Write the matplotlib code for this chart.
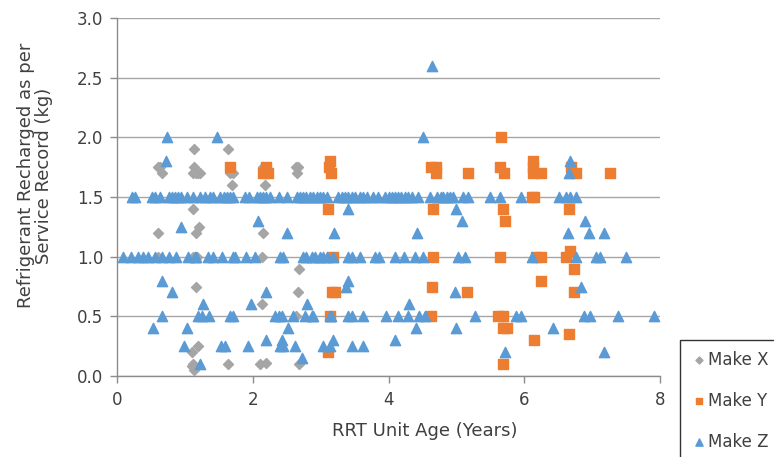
import matplotlib
matplotlib.use("Agg")
import matplotlib.pyplot as plt

# Make X (grey diamonds)
x_make_x = [0.60, 0.63, 0.67, 1.14, 1.14, 1.12, 1.16, 1.20, 1.23, 1.12, 1.21, 1.16, 0.60,
            0.61, 1.12, 1.18, 1.16, 1.20, 1.10, 1.12, 1.11, 1.13, 1.63, 1.66, 1.71, 1.69,
            2.15, 2.18, 2.64, 2.67, 2.65, 2.15, 2.13, 2.68, 2.67, 2.13, 2.64, 1.64, 2.11,
            2.19, 2.68]
y_make_x = [1.75, 1.75, 1.70, 1.90, 1.75, 1.70, 1.70, 1.70, 1.70, 1.40, 1.25, 1.20, 1.20,
            1.00, 1.00, 1.00, 0.75, 0.25, 0.20, 0.10, 0.08, 0.05, 1.90, 1.70, 1.70, 1.60,
            1.75, 1.60, 1.75, 1.75, 1.70, 1.20, 1.00, 0.90, 0.70, 0.60, 0.50, 0.10, 0.10,
            0.11, 0.10]

# Make Y (orange squares)
x_make_y = [1.66, 2.20, 2.15, 2.22, 3.14, 3.12, 3.15, 3.11, 3.18, 3.17, 3.21, 3.14, 3.11,
            4.63, 4.70, 4.70, 4.65, 4.66, 4.64, 4.63, 5.17, 5.15, 5.66, 5.64, 5.70, 6.13,
            6.13, 6.13, 6.25, 6.12, 6.15, 5.68, 5.72, 5.64, 6.17, 6.24, 6.25, 5.62, 5.69,
            5.69, 5.74, 6.14, 5.68, 6.69, 6.76, 7.26, 6.66, 6.68, 6.61, 6.74, 6.74, 6.66]
y_make_y = [1.75, 1.75, 1.70, 1.70, 1.80, 1.75, 1.70, 1.40, 1.00, 0.70, 0.70, 0.50, 0.20,
            1.75, 1.75, 1.70, 1.40, 1.00, 0.75, 0.50, 1.70, 0.70, 2.00, 1.75, 1.70, 1.80,
            1.75, 1.70, 1.70, 1.50, 1.50, 1.40, 1.30, 1.00, 1.00, 1.00, 0.80, 0.50, 0.50,
            0.40, 0.40, 0.30, 0.10, 1.75, 1.70, 1.70, 1.40, 1.05, 1.00, 0.90, 0.70, 0.35]

# Make Z (blue triangles): rows at 1.0, 1.5, 0.5, then the scattered ones
z_at_1_0 = [0.09, 0.20, 0.31, 0.39, 0.45, 0.56, 0.66, 0.76, 0.87, 1.04, 1.15, 1.17, 1.34,
            1.42, 1.54, 1.71, 1.74, 1.90, 2.04, 2.40, 2.44, 2.74, 2.79, 2.87, 2.92, 2.99,
            3.04, 3.10, 3.18, 3.41, 3.46, 3.58, 3.80, 3.86, 4.09, 4.23, 4.39, 4.51, 5.03,
            5.13, 6.11, 6.76, 7.06, 7.12, 7.50]
z_at_1_5 = [0.22, 0.26, 0.51, 0.56, 0.63, 0.76, 0.81, 0.85, 0.90, 0.95, 1.03, 1.12, 1.22,
            1.30, 1.37, 1.42, 1.52, 1.57, 1.62, 1.66, 1.71, 1.89, 1.95, 2.06, 2.11, 2.15,
            2.20, 2.25, 2.38, 2.50, 2.65, 2.70, 2.74, 2.79, 2.84, 2.89, 2.94, 2.99, 3.04,
            3.09, 3.26, 3.31, 3.36, 3.41, 3.46, 3.51, 3.58, 3.63, 3.68, 3.77, 3.85, 3.95,
            4.00, 4.05, 4.09, 4.14, 4.19, 4.24, 4.29, 4.34, 4.44, 4.61, 4.71, 4.78, 4.81,
            4.86, 4.90, 4.95, 5.10, 5.17, 5.49, 5.65, 5.95, 6.51, 6.62, 6.68, 6.76]
z_at_0_5 = [0.67, 1.20, 1.25, 1.36, 1.66, 1.71, 2.33, 2.38, 2.43, 2.60, 2.77, 2.87, 2.89,
            3.14, 3.16, 3.41, 3.46, 3.62, 3.97, 4.14, 4.29, 4.45, 4.54, 5.27, 5.88, 5.95,
            6.88, 6.97, 7.38, 7.91]
x_z_other = [0.73, 1.47, 4.51, 4.64, 0.72, 6.67, 6.66, 3.41, 4.99, 2.08, 5.09, 6.89, 0.94,
             2.50, 3.20, 4.42, 6.64, 6.96, 7.17, 0.66, 3.41, 3.37, 6.83, 0.81, 2.20, 4.98,
             1.27, 1.98, 2.80, 4.30, 0.53, 1.03, 2.52, 4.40, 5.00, 6.43, 2.20, 2.43, 3.18,
             4.10, 0.99, 1.53, 1.59, 1.93, 2.40, 2.45, 2.62, 3.04, 3.14, 3.46, 3.62, 2.73,
             1.22, 5.72, 7.18]
y_z_other = [2.00, 2.00, 2.00, 2.60, 1.80, 1.80, 1.70, 1.40, 1.40, 1.30, 1.30, 1.30, 1.25,
             1.20, 1.20, 1.20, 1.20, 1.20, 1.20, 0.80, 0.80, 0.75, 0.75, 0.70, 0.70, 0.70,
             0.60, 0.60, 0.60, 0.60, 0.40, 0.40, 0.40, 0.40, 0.40, 0.40, 0.30, 0.30, 0.30,
             0.30, 0.25, 0.25, 0.25, 0.25, 0.25, 0.25, 0.25, 0.25, 0.25, 0.25, 0.25, 0.15,
             0.10, 0.20, 0.20]

x_make_z = z_at_1_0 + z_at_1_5 + z_at_0_5 + x_z_other
y_make_z = ([1.0] * len(z_at_1_0) + [1.5] * len(z_at_1_5) + [0.5] * len(z_at_0_5)
            + y_z_other)

GREY = "#A5A5A5"
ORANGE = "#ED7D31"
BLUE = "#5B9BD5"
AXIS = "#8C8C8C"
TEXT = "#404040"

plt.rcParams['font.family'] = ['DejaVu Sans']

fig = plt.figure(figsize=(7.74, 4.57), dpi=100, facecolor='white')
ax = fig.add_axes([117 / 774, 1 - 376 / 457, (660 - 117) / 774, (376 - 18) / 457])

ax.scatter(x_make_x, y_make_x, marker='D', s=26, color=GREY, label='Make X', zorder=3)
ax.scatter(x_make_y, y_make_y, marker='s', s=42, color=ORANGE, label='Make Y', zorder=4)
ax.scatter(x_make_z, y_make_z, marker='^', s=55, color=BLUE, label='Make Z', zorder=5)

ax.set_xlim(0, 8)
ax.set_ylim(0, 3.0)
ax.set_xticks([0, 2, 4, 6, 8])
ax.set_yticks([0, 0.5, 1.0, 1.5, 2.0, 2.5, 3.0])
ax.set_yticklabels(['%.1f' % v for v in ax.get_yticks()])

ax.grid(axis='y', color='#A6A6A6', linewidth=1.0, zorder=0)
ax.set_axisbelow(True)
for side in ['top', 'right']:
    ax.spines[side].set_visible(False)
for side in ['left', 'bottom']:
    ax.spines[side].set_color(AXIS)
    ax.spines[side].set_linewidth(1.0)
ax.tick_params(axis='both', colors=AXIS, labelcolor=TEXT, labelsize=12, length=5, width=1)
ax.tick_params(axis='y', pad=5)
ax.tick_params(axis='x', pad=6)

ax.set_xlabel('RRT Unit Age (Years)', fontsize=13, color=TEXT)
ax.xaxis.set_label_coords(0.567, -0.128)
ax.set_ylabel('Refrigerant Recharged as per\nService Record (kg)', fontsize=13,
              color=TEXT, linespacing=1.0)
ax.yaxis.set_label_coords(-0.118, 0.56)

leg = fig.legend(loc='upper left', bbox_to_anchor=(680 / 774, 1 - 340 / 457),
                 fontsize=12, frameon=True, fancybox=False, edgecolor='black',
                 labelspacing=1.38, handletextpad=0.05, handlelength=1.0,
                 borderpad=0.65, borderaxespad=0, markerscale=0.7)
leg.get_frame().set_linewidth(1.0)
for t in leg.get_texts():
    t.set_color(TEXT)

fig.savefig('out.png', dpi=100)
